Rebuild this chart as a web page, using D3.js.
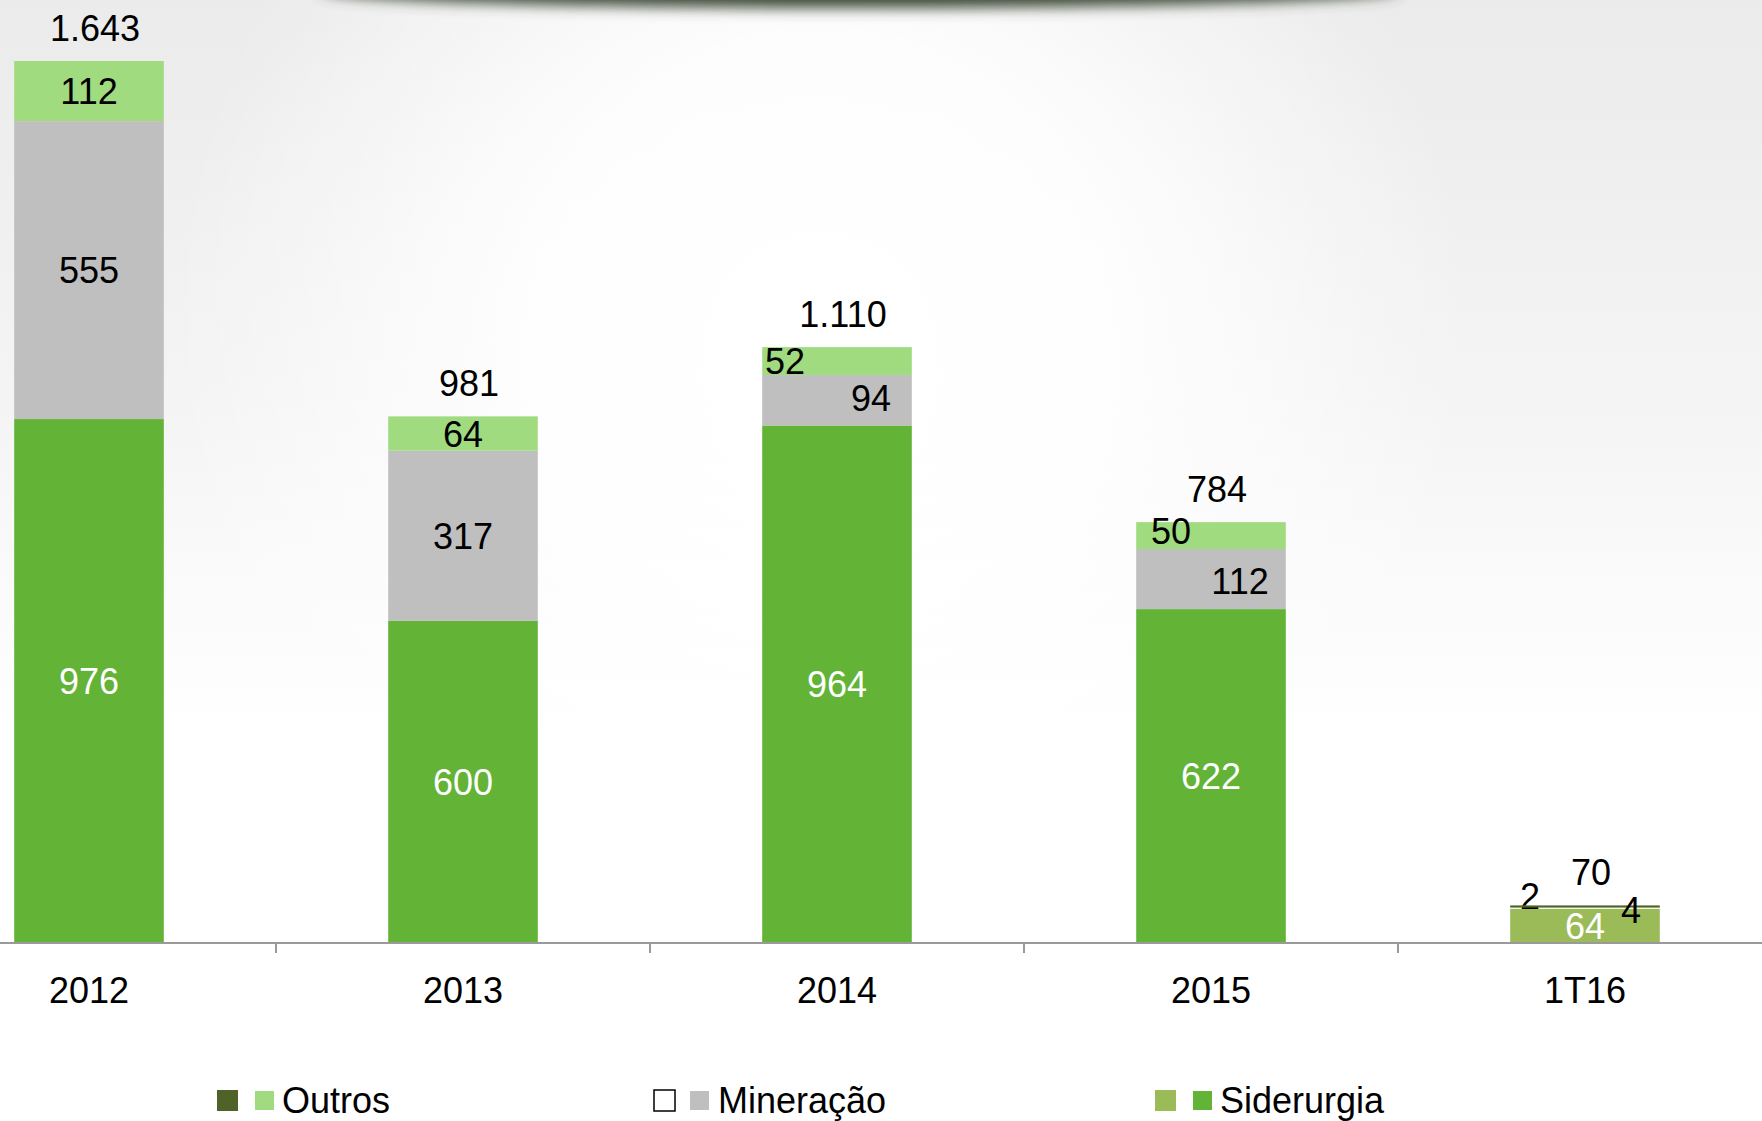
<!DOCTYPE html>
<html>
<head>
<meta charset="utf-8">
<script src="https://cdn.jsdelivr.net/npm/d3@7"></script>
<style>
  html, body { margin: 0; padding: 0; background: #fff; }
  svg { display: block; font-family: "Liberation Sans", Arial, sans-serif; }
</style>
</head>
<body>
<div id="chart"></div>
<script>
// data
let categories = ["2012", "2013", "2014", "2015", "1T16"];
let siderurgia = [976, 600, 964, 622, 64];
let mineracao = [555, 317, 94, 112, 2];
let outros = [112, 64, 52, 50, 4];
let totals = [1643, 981, 1110, 784, 70];
let seriesKeys = ["siderurgia", "mineracao", "outros"];
let seriesNames = ["Outros", "Mineração", "Siderurgia"];

// sizes
let svgwidth = 1762;
let svgheight = 1121;
let baseline = 943;

let colors = { siderurgia: "#62b336", mineracao: "#bfbfbf", outros: "#a0db80" };
// the last quarter is drawn in another palette
let altColors = { siderurgia: "#9bbb59", mineracao: "#ffffff", outros: "#4f6228" };

// nudges for labels that sit off centre (x, y in px)
let nudges = {
    "2014-outros": [-52, 0], "2014-mineracao": [34, -2],
    "2015-outros": [-40, -5], "2015-mineracao": [29, 2],
    "1T16-mineracao": [-55, -12], "1T16-outros": [46, 4]
};

let svg = d3.select("#chart")
    .append("svg")
    .attr("width", svgwidth)
    .attr("height", svgheight);

let defs = svg.append("defs");
let lin = defs.append("linearGradient")
    .attr("id", "bgl")
    .attr("gradientUnits", "userSpaceOnUse")
    .attr("x1", 0).attr("y1", 0).attr("x2", 0).attr("y2", svgheight);
lin.append("stop").attr("offset", "0%").attr("stop-color", "#ebebeb");
lin.append("stop").attr("offset", "35%").attr("stop-color", "#f4f4f4");
lin.append("stop").attr("offset", "65%").attr("stop-color", "#ffffff");
lin.append("stop").attr("offset", "100%").attr("stop-color", "#ffffff");

let rad = defs.append("radialGradient")
    .attr("id", "bgr")
    .attr("gradientUnits", "userSpaceOnUse")
    .attr("cx", 820).attr("cy", 330).attr("r", 650);
rad.append("stop").attr("offset", "0%").attr("stop-color", "#ffffff").attr("stop-opacity", 1);
rad.append("stop").attr("offset", "45%").attr("stop-color", "#ffffff").attr("stop-opacity", 0.9);
rad.append("stop").attr("offset", "100%").attr("stop-color", "#ffffff").attr("stop-opacity", 0);

defs.append("filter")
    .attr("id", "blur")
    .attr("x", "-20%").attr("y", "-200%").attr("width", "140%").attr("height", "500%")
    .append("feGaussianBlur")
    .attr("stdDeviation", 7);

svg.append("rect")
    .attr("width", svgwidth)
    .attr("height", svgheight)
    .attr("fill", "url(#bgl)");
svg.append("rect")
    .attr("width", svgwidth)
    .attr("height", svgheight)
    .attr("fill", "url(#bgr)");

// dark shadow at the top edge
svg.append("ellipse")
    .attr("cx", 860).attr("cy", -10)
    .attr("rx", 540).attr("ry", 18)
    .attr("fill", "#3c4839")
    .attr("filter", "url(#blur)");

let table = categories.map((c, i) => ({
    cat: c,
    siderurgia: siderurgia[i],
    mineracao: mineracao[i],
    outros: outros[i]
}));

let stack = d3.stack().keys(seriesKeys);
let stacked = stack(table);

let x = d3.scaleBand()
    .domain(categories)
    .range([-98, 1772])
    .paddingInner(0.6)
    .paddingOuter(0.3);

let y = d3.scaleLinear()
    .domain([0, 1643])
    .range([baseline, 61]);

let fmt = d3.formatLocale({ decimal: ",", thousands: ".", grouping: [3], currency: ["R$", ""] }).format(",");

function colorFor(key, cat) {
    return cat === "1T16" ? altColors[key] : colors[key];
}

let layers = svg.selectAll("g.layer")
    .data(stacked)
    .enter()
    .append("g")
    .attr("class", "layer");

layers.selectAll("rect")
    .data(s => s.map(d => ({ key: s.key, d: d })))
    .enter()
    .append("rect")
    .attr("x", e => x(e.d.data.cat))
    .attr("width", x.bandwidth())
    .attr("y", e => y(e.d[1]))
    .attr("height", e => y(e.d[0]) - y(e.d[1]))
    .attr("fill", e => colorFor(e.key, e.d.data.cat));

// axis
let step = x.step();
let gap = step - x.bandwidth();
let axis = svg.append("g").attr("transform", `translate(0, ${baseline})`);
axis.append("line")
    .attr("x1", 0).attr("x2", svgwidth)
    .attr("y1", 0).attr("y2", 0)
    .attr("stroke", "#9a9a9a")
    .attr("stroke-width", 2);
axis.selectAll("line.tick")
    .data(categories.slice(1))
    .enter()
    .append("line")
    .attr("class", "tick")
    .attr("x1", c => x(c) - gap / 2)
    .attr("x2", c => x(c) - gap / 2)
    .attr("y1", 0).attr("y2", 10)
    .attr("stroke", "#9a9a9a")
    .attr("stroke-width", 2);

let xAxis = d3.axisBottom(x).tickSize(0).tickPadding(0);
let axisLabels = svg.append("g")
    .attr("transform", `translate(0, ${baseline})`)
    .call(xAxis);
axisLabels.select(".domain").remove();
axisLabels.selectAll("text")
    .attr("y", 47)
    .attr("dy", "0.36em")
    .attr("font-size", 36)
    .attr("font-family", "Liberation Sans, Arial, sans-serif")
    .attr("fill", "#000");

// segment labels
layers.selectAll("text")
    .data(s => s.map(d => ({ key: s.key, d: d })))
    .enter()
    .append("text")
    .attr("x", e => x(e.d.data.cat) + x.bandwidth() / 2 + (nudges[e.d.data.cat + "-" + e.key] || [0, 0])[0])
    .attr("y", e => (y(e.d[0]) + y(e.d[1])) / 2 + (nudges[e.d.data.cat + "-" + e.key] || [0, 0])[1])
    .attr("dy", "0.36em")
    .attr("text-anchor", "middle")
    .attr("font-size", 36)
    .attr("fill", e => e.key === "siderurgia" ? "#ffffff" : "#000000")
    .text(e => e.d.data[e.key]);

// totals
svg.selectAll("text.total")
    .data(categories)
    .enter()
    .append("text")
    .attr("class", "total")
    .attr("x", (c, i) => x(c) + x.bandwidth() / 2 + 6)
    .attr("y", (c, i) => y(totals[i]) - 33)
    .attr("dy", "0.36em")
    .attr("text-anchor", "middle")
    .attr("font-size", 36)
    .attr("fill", "#000")
    .text((c, i) => fmt(totals[i]));

// legend
let legendItems = [
    { name: seriesNames[0], a: altColors.outros, b: colors.outros, x: 217 },
    { name: seriesNames[1], a: "#ffffff", b: colors.mineracao, x: 654 },
    { name: seriesNames[2], a: altColors.siderurgia, b: colors.siderurgia, x: 1155 }
];
let legend = svg.append("g").attr("transform", "translate(0, 1090)");
let li = legend.selectAll("g")
    .data(legendItems)
    .enter()
    .append("g")
    .attr("transform", d => `translate(${d.x}, 0)`);
li.append("rect")
    .attr("x", 0).attr("y", 0)
    .attr("width", 21).attr("height", 21)
    .attr("fill", d => d.a)
    .attr("stroke", d => d.a === "#ffffff" ? "#000" : "none")
    .attr("stroke-width", 1.5);
li.append("rect")
    .attr("x", d => d.a === "#ffffff" ? 36 : 38).attr("y", 1)
    .attr("width", 19).attr("height", 19)
    .attr("fill", d => d.b);
li.append("text")
    .attr("x", d => d.a === "#ffffff" ? 64 : 65)
    .attr("y", 10)
    .attr("dy", "0.36em")
    .attr("font-size", 36)
    .attr("fill", "#000")
    .text(d => d.name);
</script>
</body>
</html>
